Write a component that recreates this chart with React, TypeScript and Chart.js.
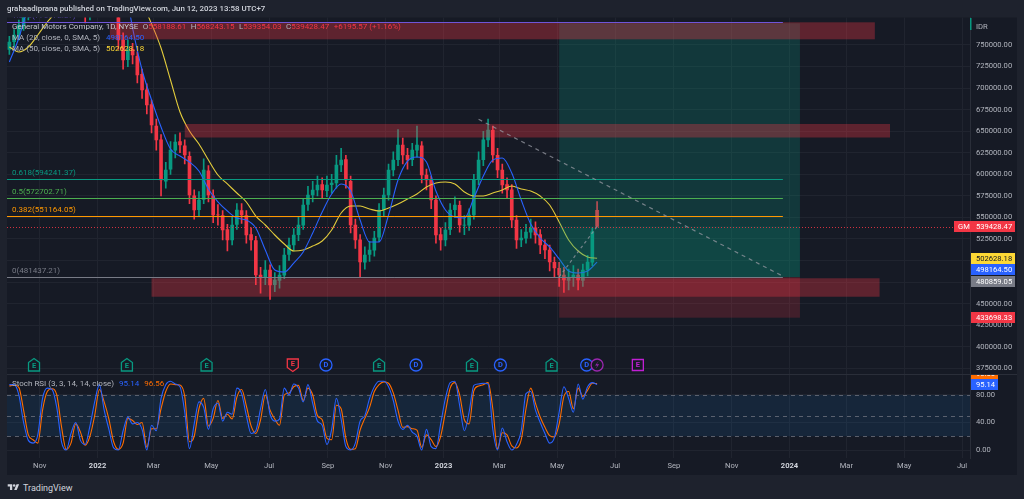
import React, { useEffect, useRef } from "react";
import { Chart, registerables } from "chart.js";

Chart.register(...registerables);

// ---------------- data (x values are days from 2022-01-01) ----------------
const candleDays = [
  -93, -88, -83, -78, -73, -68, -63, -58, -53, -48, -43, -38, -33, -28, -23, -18, -13, -8, -3, 2,
  7, 12, 17, 22, 27, 32, 37, 42, 47, 52, 57, 62, 67, 72, 77, 82, 87, 92, 97, 102,
  107, 112, 117, 122, 127, 132, 137, 142, 147, 152, 157, 162, 167, 172, 177, 182, 187, 192, 197, 202,
  207, 212, 217, 222, 227, 232, 237, 242, 247, 252, 257, 262, 267, 272, 277, 282, 287, 292, 297, 302,
  307, 312, 317, 322, 327, 332, 337, 342, 347, 352, 357, 362, 367, 372, 377, 382, 387, 392, 397, 402,
  407, 412, 417, 422, 427, 432, 437, 442, 447, 452, 457, 462, 467, 472, 477, 482, 487, 492, 497, 502,
  507, 512, 517, 522, 527,
];

const candleOpen = [
  745000, 754000, 762000, 772000, 786000, 797000, 792000, 801000, 826000, 872000,
  905000, 930000, 917000, 896000, 884000, 860000, 836000, 786000, 803000, 826000,
  849000, 894000, 870000, 812000, 756000, 733000, 745000, 737000, 716000, 698000,
  681000, 656000, 640000, 592000, 606000, 628000, 638000, 633000, 621000, 575000,
  559000, 571000, 604000, 575000, 553000, 552000, 536000, 524000, 542000, 558000,
  552000, 530000, 523000, 483000, 480000, 489000, 472000, 477000, 483000, 507000,
  518000, 530000, 541000, 565000, 576000, 582000, 588000, 581000, 588000, 590000,
  611000, 617000, 592000, 541000, 524000, 498000, 507000, 512000, 527000, 559000,
  576000, 605000, 617000, 634000, 622000, 617000, 628000, 633000, 599000, 593000,
  570000, 530000, 524000, 536000, 559000, 564000, 541000, 541000, 553000, 594000,
  617000, 640000, 651000, 622000, 605000, 588000, 582000, 547000, 524000, 526000,
  533000, 538000, 530000, 518000, 512000, 498000, 491000, 483000, 477000, 480000,
  483000, 477000, 489000, 498000, 558188.61,
];

const candleHigh = [
  760000, 768000, 779000, 792000, 803000, 806000, 810000, 834000, 880000, 915000,
  940000, 938000, 925000, 905000, 892000, 866000, 842000, 812000, 833000, 858000,
  910000, 902000, 876000, 818000, 764000, 756000, 752000, 742000, 722000, 705000,
  686000, 664000, 646000, 614000, 638000, 646000, 648000, 640000, 626000, 582000,
  580000, 618000, 610000, 582000, 565000, 558000, 542000, 550000, 566000, 566000,
  558000, 538000, 528000, 492000, 500000, 495000, 486000, 494000, 514000, 526000,
  537000, 550000, 572000, 586000, 592000, 598000, 596000, 598000, 600000, 622000,
  630000, 622000, 598000, 548000, 530000, 516000, 522000, 534000, 566000, 584000,
  612000, 626000, 652000, 642000, 630000, 636000, 656000, 638000, 606000, 598000,
  575000, 538000, 544000, 566000, 574000, 569000, 552000, 560000, 600000, 626000,
  650000, 664000, 656000, 630000, 612000, 596000, 588000, 552000, 536000, 542000,
  548000, 545000, 536000, 524000, 518000, 504000, 498000, 492000, 490000, 494000,
  490000, 496000, 506000, 538000, 568243.15,
];

const candleLow = [
  739000, 748000, 756000, 767000, 779000, 784000, 786000, 796000, 820000, 864000,
  897000, 905000, 884000, 874000, 850000, 825000, 775500, 779000, 796000, 818000,
  842000, 862000, 805000, 745000, 722000, 725000, 728000, 706000, 688000, 670000,
  648000, 628000, 575000, 584000, 600000, 619000, 625000, 612000, 566000, 548000,
  552000, 566000, 568000, 544000, 541000, 524000, 511000, 518000, 536000, 543000,
  520000, 512000, 472000, 462000, 472000, 455000, 464000, 468000, 479000, 500000,
  511000, 523000, 536000, 558000, 568000, 575000, 572000, 574000, 578000, 584000,
  603000, 584000, 532000, 514000, 480000, 490000, 499000, 505000, 522000, 552000,
  570000, 598000, 610000, 612000, 606000, 610000, 620000, 590000, 582000, 560000,
  520000, 512000, 517000, 530000, 550000, 533000, 530000, 535000, 548000, 588000,
  610000, 632000, 614000, 596000, 578000, 572000, 538000, 514000, 516000, 520000,
  526000, 520000, 508000, 502000, 488000, 480000, 470000, 463000, 466000, 470000,
  466000, 470000, 482000, 494000, 539354.03,
];

const candleClose = [
  753500, 761600, 773200, 784800, 796400, 792900, 799900, 825400, 871800, 906600,
  929800, 918200, 895000, 883400, 860200, 837000, 784800, 802200, 825400, 848600,
  895000, 871800, 813800, 755800, 732600, 744200, 738400, 715200, 697800, 680400,
  657200, 639800, 593400, 605000, 628200, 637500, 634000, 622400, 576000, 558600,
  570200, 605000, 576000, 552800, 552800, 535400, 523800, 541200, 558600, 552800,
  529600, 523800, 483200, 479700, 489000, 471600, 477400, 483200, 506400, 518000,
  529600, 541200, 564400, 576000, 581800, 587600, 581800, 587600, 589900, 610800,
  616600, 593400, 541200, 523800, 498300, 506400, 512200, 526100, 558600, 576000,
  605000, 616600, 634000, 622400, 616600, 628200, 634000, 599200, 593400, 570200,
  529600, 523800, 535400, 558600, 564400, 541200, 541200, 552800, 593400, 616600,
  640000, 651400, 622400, 605000, 587600, 581800, 547000, 523800, 526100, 533000,
  537700, 529600, 518000, 512200, 498300, 491400, 483200, 477400, 479700, 483200,
  477400, 489000, 498300, 533232.9, 539428.47,
];

const maDays = [
  -93, -83, -73, -63, -53, -43, -33, -23, -13, -3, 7, 17, 27, 37, 47, 57, 67, 77, 87, 97,
  107, 117, 127, 137, 147, 157, 167, 177, 187, 197, 207, 217, 227, 237, 247, 257, 267, 277, 287, 297,
  307, 317, 327, 337, 347, 357, 367, 377, 387, 397, 407, 417, 427, 437, 447, 457, 467, 477, 487, 497,
  507, 517, 527,
];

const ma20Values = [
  730300, 758100, 796400, 830000, 860000, 885000, 895000, 885000, 860000, 845000,
  850000, 855000, 830000, 769700, 721000, 686200, 654900, 629400, 621200, 614300,
  603800, 583000, 567900, 557400, 549300, 547000, 537700, 512200, 489000, 486700,
  497100, 509900, 531900, 556300, 577200, 588800, 580600, 547000, 521500, 521500,
  552800, 593400, 615400, 620100, 614300, 580600, 558600, 550500, 549300, 572500,
  598000, 616600, 618900, 601500, 570200, 542400, 526100, 515700, 501800, 487900,
  485500, 487900, 498164.5,
];

const ma50Values = [
  747700, 741900, 747700, 761600, 776700, 790000, 810000, 830000, 845000, 850000,
  855000, 850000, 835000, 815000, 798700, 774400, 746500, 709400, 672300, 650200,
  635200, 616600, 599200, 588800, 578300, 567900, 551600, 541200, 529600, 519200,
  511000, 512200, 516800, 522600, 535400, 555100, 563200, 563200, 559800, 557400,
  560900, 565600, 571400, 577200, 585300, 589900, 591100, 588800, 579500, 574800,
  574800, 578300, 581800, 586400, 583000, 580600, 574800, 564400, 544700, 523800,
  511000, 504100, 502628.18,
];

const stochK = [
  95, 95, 80, 40, 14, 10, 22, 75, 90, 88,
  62, 12, 0, 24, 40, 14, 8, 35, 70, 95,
  58, 30, 3, 0, 28, 48, 38, 40, 30, 0,
  36, 28, 75, 95, 100, 96, 92, 55, 2, 38,
  70, 62, 30, 60, 68, 42, 55, 52, 90, 82,
  50, 24, 28, 60, 88, 52, 42, 45, 90, 80,
  96, 90, 70, 95, 68, 42, 36, 8, 30, 75,
  45, 5, 0, 10, 42, 50, 75, 92, 100, 100,
  92, 72, 42, 30, 36, 26, 20, 0, 30, 5,
  2, 38, 75, 98, 100, 65, 28, 55, 94, 96,
  97, 96, 30, 0, 32, 12, 0, 8, 28, 82,
  85, 58, 40, 24, 10, 18, 55, 92, 75, 55,
  96, 74, 92, 98, 95.14,
];

const stochD = [
  93, 94.5, 91, 58, 22, 15, 10, 58, 85, 89,
  80, 34, 1, 10, 38, 26, 7, 20, 50, 88,
  70, 45, 12, 1, 10, 46, 43, 37, 40, 4,
  31, 31, 60, 85, 96, 95, 94.5, 78, 12, 20,
  60, 75, 35, 46, 72, 46, 52, 45, 77, 88,
  64, 35, 24, 44, 80, 58, 45, 36, 80, 83,
  92, 94, 72, 90, 80, 50, 44, 17, 15, 65,
  60, 17, 1, 2, 29, 46, 62, 85, 95, 99,
  97, 83, 58, 33, 34, 31, 29, 4, 22, 15,
  5, 20, 55, 90, 98, 80, 44, 38, 86, 93,
  95, 98, 60, 2, 25, 22, 6, 3, 15, 60,
  90, 68, 48, 33, 21, 19, 38, 78, 85, 60,
  90, 78, 87, 97, 96.56,
];

const monthTickDays = [-61, 0, 59, 120, 181, 243, 304, 365, 424, 485, 546, 608, 669, 730, 790, 851, 912];
const monthTickLabels = ["Nov", "2022", "Mar", "May", "Jul", "Sep", "Nov", "2023", "Mar", "May", "Jul", "Sep", "Nov", "2024", "Mar", "May", "Jul"];

const priceTicks = [
  375000, 400000, 425000, 450000, 475000, 500000, 525000, 550000,
  575000, 600000, 625000, 650000, 675000, 700000, 725000, 750000,
];
const stochTicks = [0, 40, 80];
const stochBands = [80, 50, 20];

const fibLevels = [0, 0.382, 0.5, 0.618, 1.618];
const fibPrices = [481437.21, 551164.05, 572702.71, 594241.37, 776772.37];
const fibEndDay = 723;

const zoneStartDays = [13, 92, 57];
const zoneEndDays = [820, 836, 825];
const zoneTopPrices = [776300, 658400, 479400];
const zoneBottomPrices = [756600, 642700, 458000];

const positionDays = [487, 741];
const positionTarget = 775200;
const positionEntry = 480859.05;
const positionStop = 433698.33;

const trendDays = [402, 722];
const trendPrices = [663800, 482400];

const earningsDays = [-67, 31, 115, 206, 297, 395, 479, 570];
const earningsKinds = ["beat", "beat", "beat", "miss", "beat", "beat", "beat", "next"];
const dividendDays = [241, 336, 425, 516];
const newsDays = [527];

// ---------------- styling ----------------
const FONT = 'Roboto, "Liberation Sans", Arial, sans-serif';
const BG = "#161a25";
const GRID = "#20242f";
const TEXT = "#b2b5be";
const UP = "#089981";
const DOWN = "#f23645";
const BLUE = "#2962ff";
const YELLOW = "#fdd835";
const ORANGE = "#ff6d00";
const X_MIN = -95.5;
const X_MAX = 920.4;
const PRICE_MIN = 368360;
const PRICE_MAX = 781900;
const STOCH_MIN = -11.6;
const STOCH_MAX = 110.5;
const AXIS_FONT = 7.6;

const fmt = (v: number) => v.toFixed(2);

function drawRuns(ctx: CanvasRenderingContext2D, x: number, y: number, runs: Array<[string, string, number]>) {
  let cx = x;
  for (const [t, c, gap] of runs) {
    ctx.fillStyle = c;
    ctx.fillText(t, cx, y);
    cx += ctx.measureText(t).width + gap;
  }
}

function badge(ctx: CanvasRenderingContext2D, x1: number, w: number, y: number, bg: string, fg: string, text: string, tx: number) {
  ctx.fillStyle = bg;
  ctx.fillRect(x1, Math.round(y - 5.5), w, 11);
  ctx.fillStyle = fg;
  ctx.textBaseline = "middle";
  ctx.fillText(text, tx, Math.round(y - 5.5) + 5.8);
}

function drawEvent(ctx: CanvasRenderingContext2D, kind: string, x: number, y: number) {
  const colors: Record<string, string> = { beat: UP, miss: DOWN, next: "#c01fd4", div: BLUE, news: "#9c27b0" };
  const c = colors[kind];
  ctx.save();
  ctx.lineWidth = 1.3;
  ctx.strokeStyle = c;
  ctx.fillStyle = BG;
  ctx.beginPath();
  if (kind === "beat") {
    ctx.moveTo(x - 5.5, y - 2.5); ctx.lineTo(x, y - 6.5); ctx.lineTo(x + 5.5, y - 2.5);
    ctx.lineTo(x + 5.5, y + 6); ctx.lineTo(x - 5.5, y + 6); ctx.closePath();
  } else if (kind === "miss") {
    ctx.moveTo(x - 5.5, y - 6); ctx.lineTo(x + 5.5, y - 6); ctx.lineTo(x + 5.5, y + 2.5);
    ctx.lineTo(x, y + 6.5); ctx.lineTo(x - 5.5, y + 2.5); ctx.closePath();
  } else if (kind === "next") {
    ctx.rect(x - 5.5, y - 5.5, 11, 11);
  } else {
    ctx.arc(x, y, 6, 0, Math.PI * 2);
  }
  ctx.fill();
  ctx.stroke();
  ctx.fillStyle = c;
  if (kind === "news") {
    ctx.beginPath();
    ctx.moveTo(x + 1.5, y - 4); ctx.lineTo(x - 2, y + 0.5); ctx.lineTo(x + 0.3, y + 0.5);
    ctx.lineTo(x - 1.5, y + 4); ctx.lineTo(x + 2, y - 0.8); ctx.lineTo(x - 0.3, y - 0.8); ctx.closePath();
    ctx.fill();
  } else {
    ctx.font = `bold 7.5px ${FONT}`;
    ctx.textAlign = "center";
    ctx.textBaseline = "middle";
    ctx.fillText(kind === "div" ? "D" : "E", x, y + (kind === "beat" ? 1 : kind === "miss" ? -1 : 0.5));
  }
  ctx.restore();
}

const fitY = (s: any) => {
  s.width = 47;
  s.paddingTop = 0;
  s.paddingBottom = 0;
};

function mainConfig(): any {
  const candleColors = candleClose.map((c, i) => (c >= candleOpen[i] ? UP : DOWN));
  const lastClose = candleClose[candleClose.length - 1];
  const prevClose = candleClose[candleClose.length - 2];
  const change = lastClose - prevClose;

  const decor = {
    id: "mainDecor",
    beforeDraw(chart: any) {
      const { ctx, chartArea: ca } = chart;
      ctx.save();
      ctx.fillStyle = BG;
      ctx.fillRect(7, ca.top, chart.width - 14, chart.height - ca.top);
      ctx.restore();
    },
    afterDatasetsDraw(chart: any) {
      const { ctx, chartArea: ca } = chart;
      const xs = chart.scales.x;
      const ys = chart.scales.y;
      const X = (d: number) => xs.getPixelForValue(d);
      const Y = (p: number) => ys.getPixelForValue(p);
      ctx.save();
      ctx.beginPath();
      ctx.rect(ca.left, ca.top, ca.right - ca.left, ca.bottom - ca.top);
      ctx.clip();

      // long position tool
      const p1 = X(positionDays[0]);
      const p2 = X(positionDays[1]);
      ctx.fillStyle = "rgba(8,153,129,0.24)";
      ctx.fillRect(p1, Y(positionTarget), p2 - p1, Y(positionEntry) - Y(positionTarget));
      ctx.fillStyle = "rgba(8,153,129,0.14)";
      ctx.fillRect(p1, Y(lastClose), p2 - p1, Y(positionEntry) - Y(lastClose));
      ctx.fillStyle = "rgba(242,54,69,0.2)";
      ctx.fillRect(p1, Y(positionEntry), p2 - p1, Y(positionStop) - Y(positionEntry));

      // supply / demand zones
      ctx.fillStyle = "rgba(242,54,69,0.33)";
      zoneStartDays.forEach((d, i) => {
        const x1 = X(d);
        const x2 = X(zoneEndDays[i]);
        const y1 = Y(zoneTopPrices[i]);
        const y2 = Y(zoneBottomPrices[i]);
        ctx.fillRect(x1, y1, x2 - x1, y2 - y1);
      });

      // fibonacci
      const fibColors = ["#787b86", "#ff9800", "#4caf50", "#089981", "#6f55d8"];
      ctx.font = `8px ${FONT}`;
      ctx.textBaseline = "bottom";
      fibLevels.forEach((lv, i) => {
        const y = Math.round(Y(fibPrices[i])) + 0.5;
        ctx.strokeStyle = fibColors[i];
        ctx.lineWidth = 1;
        ctx.beginPath();
        ctx.moveTo(ca.left, y);
        ctx.lineTo(X(fibEndDay), y);
        ctx.stroke();
        ctx.fillStyle = fibColors[i];
        ctx.fillText(`${lv}(${fmt(fibPrices[i])})`, ca.left + 5, y - 2.5);
      });

      // trend line
      ctx.strokeStyle = "rgba(149,152,161,0.75)";
      ctx.lineWidth = 1.2;
      ctx.setLineDash([4, 4]);
      ctx.beginPath();
      ctx.moveTo(X(trendDays[0]), Y(trendPrices[0]));
      ctx.lineTo(X(trendDays[1]), Y(trendPrices[1]));
      ctx.stroke();

      // position path
      ctx.setLineDash([3, 3]);
      ctx.beginPath();
      ctx.moveTo(p1, Y(positionEntry));
      ctx.lineTo(X(candleDays[candleDays.length - 1]), Y(lastClose));
      ctx.stroke();

      // last price line
      ctx.strokeStyle = "rgba(242,54,69,0.85)";
      ctx.lineWidth = 1;
      ctx.setLineDash([1, 2]);
      const ly = Math.round(Y(lastClose)) + 0.5;
      ctx.beginPath();
      ctx.moveTo(ca.left, ly);
      ctx.lineTo(ca.right, ly);
      ctx.stroke();
      ctx.setLineDash([]);
      ctx.restore();
    },
    afterDraw(chart: any) {
      const { ctx, chartArea: ca } = chart;
      const xs = chart.scales.x;
      const ys = chart.scales.y;
      const X = (d: number) => xs.getPixelForValue(d);
      const Y = (p: number) => ys.getPixelForValue(p);
      ctx.save();
      ctx.textBaseline = "middle";
      ctx.textAlign = "left";

      // header
      ctx.font = `500 7.9px ${FONT}`;
      ctx.fillStyle = "#d1d4dc";
      ctx.fillText("grahaadiprana published on TradingView.com, Jun 12, 2023 13:58 UTC+7", 7, 9);

      // legend
      ctx.font = `8px ${FONT}`;
      const last = candleOpen.length - 1;
      drawRuns(ctx, ca.left + 5, 27, [
        ["General Motors Company, 1D, NYSE", "#c4c7ce", 4.5],
        ["O", TEXT, 0], [fmt(candleOpen[last]), DOWN, 4.5],
        ["H", TEXT, 0], [fmt(candleHigh[last]), DOWN, 4.5],
        ["L", TEXT, 0], [fmt(candleLow[last]), DOWN, 4.5],
        ["C", TEXT, 0], [fmt(candleClose[last]), DOWN, 4.5],
        [`${change >= 0 ? "+" : ""}${fmt(change)} (${change >= 0 ? "+" : ""}${((change / prevClose) * 100).toFixed(2)}%)`, DOWN, 0],
      ]);
      drawRuns(ctx, ca.left + 5, 38, [
        ["MA (20, close, 0, SMA, 5)", TEXT, 6],
        [fmt(ma20Values[ma20Values.length - 1]), BLUE, 0],
      ]);
      drawRuns(ctx, ca.left + 5, 49, [
        ["MA (50, close, 0, SMA, 5)", TEXT, 6],
        [fmt(ma50Values[ma50Values.length - 1]), YELLOW, 0],
      ]);

      // axis caption
      ctx.font = `${AXIS_FONT}px ${FONT}`;
      ctx.fillStyle = TEXT;
      ctx.fillText("IDR", ca.right + 6, 27);
      ctx.fillStyle = UP;
      ctx.fillRect(ca.right, 18, 1.5, 12);

      // events
      const ey = ca.bottom - 9;
      dividendDays.forEach((d) => drawEvent(ctx, "div", X(d), ey));
      earningsDays.forEach((d, i) => drawEvent(ctx, earningsKinds[i], X(d), ey));
      newsDays.forEach((d) => drawEvent(ctx, "news", X(d), ey));

      // price badges
      ctx.font = `${AXIS_FONT}px ${FONT}`;
      const bx = ca.right + 1;
      const tx = ca.right + 6;
      badge(ctx, ca.right - 16, 61, Y(lastClose), DOWN, "#ffffff", fmt(lastClose), tx);
      ctx.fillStyle = "#ffffff";
      ctx.fillText("GM", ca.right - 12, Math.round(Y(lastClose) - 5.5) + 5.8);
      const stack = [
        { v: ma50Values[ma50Values.length - 1], bg: YELLOW, fg: "#131722" },
        { v: ma20Values[ma20Values.length - 1], bg: BLUE, fg: "#ffffff" },
        { v: positionEntry, bg: "#787b86", fg: "#ffffff" },
      ];
      let prev = -Infinity;
      stack.forEach((b) => {
        const y = Math.max(Y(b.v), prev + 11.5);
        badge(ctx, bx, 44, y, b.bg, b.fg, fmt(b.v), tx);
        prev = y;
      });
      badge(ctx, bx, 44, Y(positionStop), DOWN, "#ffffff", fmt(positionStop), tx);
      ctx.restore();
    },
  };

  return {
    type: "bar",
    data: {
      datasets: [
        {
          type: "line",
          data: maDays.map((d, i) => ({ x: d, y: ma20Values[i] })),
          borderColor: BLUE,
          borderWidth: 1.1,
          pointRadius: 0,
          cubicInterpolationMode: "monotone",
          clip: 0,
          order: 1,
        },
        {
          type: "line",
          data: maDays.map((d, i) => ({ x: d, y: ma50Values[i] })),
          borderColor: "#e3cc3c",
          borderWidth: 1.1,
          pointRadius: 0,
          cubicInterpolationMode: "monotone",
          clip: 0,
          order: 2,
        },
        {
          type: "bar",
          data: candleDays.map((d, i) => ({ x: d, y: [candleOpen[i], candleClose[i]] })),
          backgroundColor: candleColors,
          barThickness: 3,
          grouped: false,
          clip: 0,
          order: 3,
        },
        {
          type: "bar",
          data: candleDays.map((d, i) => ({ x: d, y: [candleLow[i], candleHigh[i]] })),
          backgroundColor: candleColors,
          barThickness: 1,
          grouped: false,
          clip: 0,
          order: 4,
        },
      ],
    },
    options: {
      animation: false,
      responsive: false,
      events: [],
      layout: { padding: { top: 17.5, left: 7, right: 7, bottom: 0 } },
      plugins: { legend: { display: false }, tooltip: { enabled: false } },
      scales: {
        x: {
          type: "linear",
          min: X_MIN,
          max: X_MAX,
          offset: false,
          grid: { color: GRID, drawTicks: false, offset: false },
          border: { display: false },
          ticks: { display: false },
          afterBuildTicks: (s: any) => { s.ticks = monthTickDays.map((v) => ({ value: v })); },
          afterFit: (s: any) => { s.height = 0; s.paddingLeft = 0; s.paddingRight = 0; },
        },
        y: {
          type: "linear",
          position: "right",
          min: PRICE_MIN,
          max: PRICE_MAX,
          beginAtZero: false,
          grid: { color: GRID, drawTicks: false },
          border: { display: true, color: "#2a2e39" },
          ticks: { color: TEXT, font: { size: AXIS_FONT, family: FONT }, padding: 6, callback: (v: any) => fmt(Number(v)) },
          afterBuildTicks: (s: any) => { s.ticks = priceTicks.map((v) => ({ value: v })); },
          afterFit: fitY,
        },
      },
    },
    plugins: [decor],
  };
}

function stochConfig(): any {
  const decor = {
    id: "stochDecor",
    beforeDraw(chart: any) {
      const { ctx } = chart;
      ctx.save();
      ctx.fillStyle = BG;
      ctx.fillRect(7, 0, chart.width - 14, chart.height);
      ctx.restore();
    },
    beforeDatasetsDraw(chart: any) {
      const { ctx, chartArea: ca } = chart;
      const Y = (v: number) => chart.scales.y.getPixelForValue(v);
      ctx.save();
      ctx.fillStyle = "rgba(33,150,243,0.1)";
      ctx.fillRect(ca.left, Y(stochBands[0]), ca.right - ca.left, Y(stochBands[2]) - Y(stochBands[0]));
      ctx.strokeStyle = "rgba(120,123,134,0.7)";
      ctx.lineWidth = 1;
      ctx.setLineDash([4, 4]);
      stochBands.forEach((b) => {
        const y = Math.round(Y(b)) + 0.5;
        ctx.beginPath();
        ctx.moveTo(ca.left, y);
        ctx.lineTo(ca.right, y);
        ctx.stroke();
      });
      ctx.restore();
    },
    afterDraw(chart: any) {
      const { ctx, chartArea: ca } = chart;
      const Y = (v: number) => chart.scales.y.getPixelForValue(v);
      ctx.save();
      ctx.font = `8px ${FONT}`;
      ctx.textBaseline = "middle";
      const k = stochK[stochK.length - 1];
      const d = stochD[stochD.length - 1];
      drawRuns(ctx, ca.left + 5, 9.5, [
        ["Stoch RSI (3, 3, 14, 14, close)", TEXT, 5],
        [fmt(k), BLUE, 5],
        [fmt(d), ORANGE, 0],
      ]);
      ctx.font = `${AXIS_FONT}px ${FONT}`;
      const yk = Y(k);
      const yd = Math.min(Y(d), yk - 11.5);
      badge(ctx, ca.right + 1, 27, yd, ORANGE, "#ffffff", fmt(d), ca.right + 6);
      badge(ctx, ca.right + 1, 27, yk, BLUE, "#ffffff", fmt(k), ca.right + 6);
      ctx.fillStyle = "#2a2e39";
      ctx.fillRect(7, 0, chart.width - 14, 1);
      ctx.restore();
    },
  };

  return {
    type: "line",
    data: {
      datasets: [
        {
          data: candleDays.map((x, i) => ({ x, y: stochK[i] })),
          borderColor: BLUE,
          borderWidth: 1.1,
          pointRadius: 0,
          cubicInterpolationMode: "monotone",
          clip: 0,
        },
        {
          data: candleDays.map((x, i) => ({ x, y: stochD[i] })),
          borderColor: ORANGE,
          borderWidth: 1.1,
          pointRadius: 0,
          cubicInterpolationMode: "monotone",
          clip: 0,
        },
      ],
    },
    options: {
      animation: false,
      responsive: false,
      events: [],
      layout: { padding: { top: 0, left: 7, right: 7, bottom: 0 } },
      plugins: { legend: { display: false }, tooltip: { enabled: false } },
      scales: {
        x: {
          type: "linear",
          min: X_MIN,
          max: X_MAX,
          offset: false,
          grid: { color: GRID, drawTicks: false },
          border: { display: false },
          ticks: {
            autoSkip: false,
            maxRotation: 0,
            padding: 4,
            color: (c: any) => (/^\d{4}$/.test(String(c.tick && c.tick.label)) ? "#d1d4dc" : TEXT),
            font: (c: any) => ({
              size: AXIS_FONT,
              family: FONT,
              weight: /^\d{4}$/.test(String(c.tick && c.tick.label)) ? "bold" : "normal",
            }),
            callback: (v: any) => {
              const i = monthTickDays.indexOf(Number(v));
              return i >= 0 ? monthTickLabels[i] : "";
            },
          },
          afterBuildTicks: (s: any) => { s.ticks = monthTickDays.map((v) => ({ value: v })); },
          afterFit: (s: any) => { s.height = 17; s.paddingLeft = 0; s.paddingRight = 0; },
        },
        y: {
          type: "linear",
          position: "right",
          min: STOCH_MIN,
          max: STOCH_MAX,
          grid: { color: GRID, drawTicks: false },
          border: { display: true, color: "#2a2e39" },
          ticks: { color: TEXT, font: { size: AXIS_FONT, family: FONT }, padding: 6, callback: (v: any) => fmt(Number(v)) },
          afterBuildTicks: (s: any) => { s.ticks = stochTicks.map((v) => ({ value: v })); },
          afterFit: fitY,
        },
      },
    },
    plugins: [decor],
  };
}

export default function App() {
  const mainRef = useRef<HTMLCanvasElement>(null);
  const stochRef = useRef<HTMLCanvasElement>(null);

  useEffect(() => {
    document.body.style.margin = "0";
    document.body.style.background = "#1e222d";
    const a = new Chart(mainRef.current as HTMLCanvasElement, mainConfig());
    const b = new Chart(stochRef.current as HTMLCanvasElement, stochConfig());
    return () => {
      a.destroy();
      b.destroy();
    };
  }, []);

  return (
    <div style={{ position: "fixed", left: 0, top: 0, width: 1024, height: 499, background: "#1e222d", overflow: "hidden" }}>
      <canvas ref={mainRef} width={1024} height={374} style={{ position: "absolute", left: 0, top: 0, width: 1024, height: 374 }} />
      <canvas ref={stochRef} width={1024} height={101} style={{ position: "absolute", left: 0, top: 374, width: 1024, height: 101 }} />
      <div
        style={{
          position: "absolute",
          left: 7,
          top: 481,
          height: 13,
          display: "flex",
          alignItems: "center",
          gap: 3,
          fontFamily: FONT,
          fontSize: 9,
          color: "#d1d4dc",
        }}
      >
        <svg width="13" height="9" viewBox="0 0 36 28">
          <path d="M14 22H7V11H0V4h14v18zM28 22h-8l7.5-18h8L28 22z" fill="#d1d4dc" />
          <circle cx="20" cy="8" r="4" fill="#d1d4dc" />
        </svg>
        <span>TradingView</span>
      </div>
    </div>
  );
}
